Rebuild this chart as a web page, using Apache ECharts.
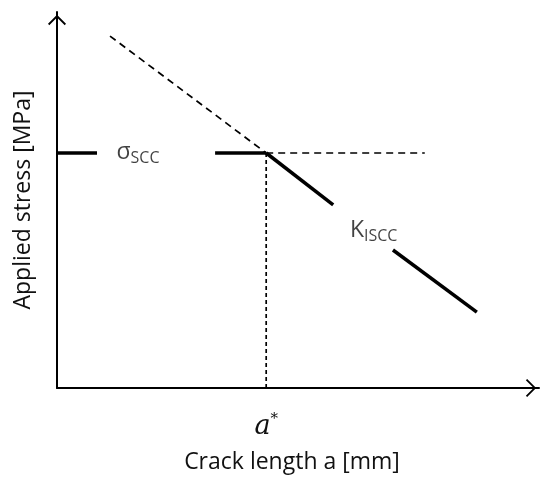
<!DOCTYPE html>
<html>
<head>
<meta charset="utf-8">
<script src="https://cdn.jsdelivr.net/npm/echarts@6/dist/echarts.min.js"></script>
<style>
  html, body { margin: 0; padding: 0; background: #fff; }
  #chart { width: 550px; height: 486px; }
</style>
</head>
<body>
<div id="chart"></div>
<script>
// 数据（坐标单位为 0~100 的示意刻度）
const sigmaScc = 62.5;   // 应力腐蚀门槛应力
const aStar = 43.4;      // 临界裂纹长度 a*
const sigmaLeft = [[0, sigmaScc], [8.3, sigmaScc]];
const sigmaRight = [[32.8, sigmaScc], [aStar, sigmaScc]];
const sigmaDashed = [[aStar, sigmaScc], [76.3, sigmaScc]];
const kDashed = [[11.0, 93.6], [aStar, sigmaScc]];
const kSolid1 = [[aStar, sigmaScc], [57.3, 48.7]];
const kSolid2 = [[69.7, 36.7], [87.1, 20.2]];
const aStarDrop = [[aStar, 0], [aStar, sigmaScc]];
const labelSigma = [[16.8, 62.6]];
const labelK = [[65.7, 41.8]];

const font = '"Open Sans", "Liberation Sans", sans-serif';
// 开口箭头
const chevron = 'path://M0,10 L10,0 L20,10 L18.6,11.4 L10,2.8 L1.4,11.4 Z';

const chart = echarts.init(document.getElementById('chart'));

function seg(data, width, dash) {
  return {
    type: 'line',
    data: data,
    showSymbol: false,
    symbol: 'none',
    silent: true,
    lineStyle: { color: '#000', width: width, type: dash ? dash : 'solid' },
    z: 3
  };
}

function textPoint(data, rich, text) {
  return {
    type: 'scatter',
    data: data,
    symbolSize: 0,
    silent: true,
    clip: false,
    label: {
      show: true,
      position: 'inside',
      formatter: text,
      rich: rich
    }
  };
}

const labelRich = {
  m: { fontFamily: font, fontSize: 23, color: '#111' },
  sub: { fontFamily: font, fontSize: 16, color: '#111', padding: [11, 0, 0, 0] }
};

const option = {
  animation: false,
  backgroundColor: '#fff',
  grid: { left: 57, right: 11, top: 12, bottom: 98 },
  xAxis: {
    type: 'value',
    min: 0,
    max: 100,
    name: 'Crack length a [mm]',
    nameLocation: 'middle',
    nameGap: 63,
    nameTextStyle: { fontFamily: font, fontSize: 23, color: '#111', padding: [0, 12, 0, 0] },
    splitLine: { show: false },
    axisTick: { show: false },
    axisLine: {
      lineStyle: { color: '#000', width: 2 },
      symbol: ['none', chevron],
      symbolSize: [18, 16],
      symbolOffset: [0, -8]
    },
    axisLabel: {
      customValues: [aStar],
      margin: 24,
      formatter: '{a|a}{s|*}',
      rich: {
        a: { fontFamily: '"DejaVu Serif", serif', fontStyle: 'italic', fontSize: 27, color: '#111' },
        s: { fontFamily: '"DejaVu Serif", serif', fontSize: 15, color: '#111', verticalAlign: 'top', padding: [0, 0, 14, 0] }
      }
    }
  },
  yAxis: {
    type: 'value',
    min: 0,
    max: 100,
    name: 'Applied stress [MPa]',
    nameLocation: 'middle',
    nameGap: 22,
    nameTextStyle: { fontFamily: font, fontSize: 23, color: '#111' },
    splitLine: { show: false },
    axisTick: { show: false },
    axisLabel: { show: false },
    axisLine: {
      lineStyle: { color: '#000', width: 2 },
      symbol: ['none', chevron],
      symbolSize: [18, 16],
      symbolOffset: [0, -8]
    }
  },
  series: [
    seg(sigmaLeft, 3.5),
    seg(sigmaRight, 3.5),
    seg(sigmaDashed, 1.7, [7, 5]),
    seg(kDashed, 1.7, [7, 5]),
    seg(kSolid1, 3.5),
    seg(kSolid2, 3.5),
    seg(aStarDrop, 1.7, [4, 3]),
    textPoint(labelSigma, labelRich, '{m|σ}{sub|SCC}'),
    textPoint(labelK, labelRich, '{m|K}{sub|ISCC}')
  ]
};

chart.setOption(option);
</script>
</body>
</html>
